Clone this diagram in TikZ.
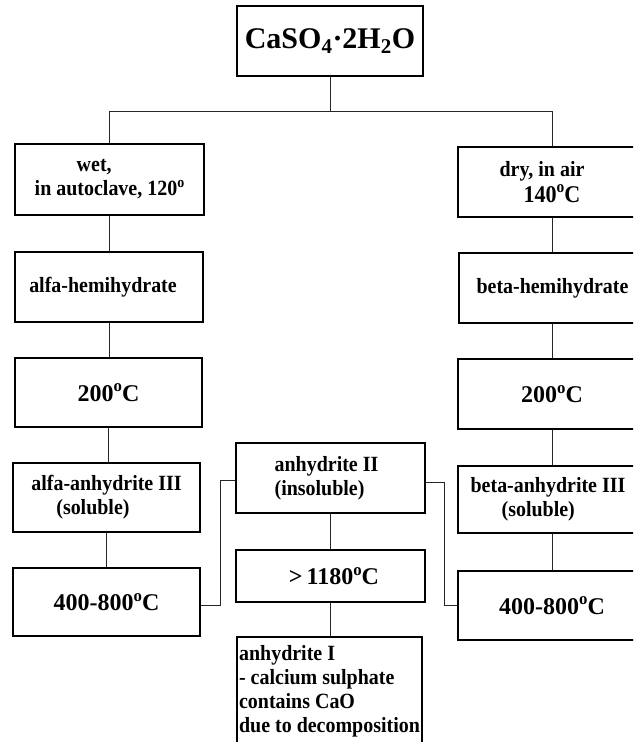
\documentclass[tikz,border=0pt]{standalone}
\usepackage{fontspec}
\setmainfont{Liberation Serif}
\newfontfamily\condfont{Liberation Serif}[FakeStretch=0.92]
\tikzset{
  box/.style={draw, line width=1.6pt, rectangle, inner sep=0pt, align=center,
    font=\condfont\bfseries\fontsize{21.7}{24}\selectfont},
  tempbox/.style={box, font=\bfseries\fontsize{24}{28}\selectfont},
  link/.style={line width=0.9pt, draw=black!85},
}
\newcommand{\degsup}{\raisebox{0.4em}{\scalebox{0.7}{o}}}
\begin{document}
\begin{tikzpicture}[x=1pt, y=-1pt]
\useasboundingbox (0,0) rectangle (633,742);
\clip (0,0) rectangle (633,742);

% boxes
\node[box, minimum width=186pt, minimum height=70pt,
      font=\bfseries\fontsize{30}{36}\selectfont] (top) at (330,41)
      {CaSO\textsubscript{4}·2H\textsubscript{2}O};

\node[box, minimum width=189pt, minimum height=71pt, align=left] (wet) at (109.5,179.5)
      {\hspace*{42pt}wet,\\in autoclave, 120\degsup};
\node[box, minimum width=188pt, minimum height=70pt, align=left] (dry) at (552,182)
      {dry, in air\hspace*{20pt}\\[2pt]\hspace*{24pt}{\fontsize{24}{28}\selectfont 140\degsup C}};

\node[box, minimum width=188pt, minimum height=70pt] (ahemi) at (109,287)
      {alfa-hemihydrate\hspace*{12pt}};
\node[box, minimum width=187pt, minimum height=70pt] (bhemi) at (552.5,288)
      {beta-hemihydrate};

\node[tempbox, minimum width=187pt, minimum height=69pt] (atwo) at (108.5,392.5)
      {200\degsup C};
\node[tempbox, minimum width=188pt, minimum height=70pt] (btwo) at (552,394)
      {200\degsup C};

\node[box, minimum width=187pt, minimum height=69pt, align=left] (aanh) at (106.5,497.5)
      {alfa-anhydrite III\\\hspace*{25pt}(soluble)};
\node[box, minimum width=188pt, minimum height=67pt, align=left] (banh) at (552,499.5)
      {beta-anhydrite III\hspace*{8pt}\\\hspace*{31pt}(soluble)};

\node[tempbox, minimum width=187pt, minimum height=68pt] (afour) at (106.5,602)
      {400-800\degsup C};
\node[tempbox, minimum width=188pt, minimum height=69pt] (bfour) at (552,605.5)
      {400-800\degsup C};

\node[box, minimum width=189pt, minimum height=70pt, align=left] (anhtwo) at (330.5,478)
      {anhydrite II\hspace*{8pt}\\(insoluble)};
\node[tempbox, minimum width=189pt, minimum height=52pt] (hot) at (330.5,576)
      {\hspace*{7pt}>\,1180\degsup C};
\node[box, minimum width=185pt, minimum height=109pt, align=left]
      (anhone) at (329.5,691.5)
      {anhydrite I\\- calcium sulphate\\contains CaO\\due to decomposition};

% connectors
\coordinate (split) at (330,111);
\draw[link] (top.south) -- (split);
\draw[link] (split) -| (wet.north);
\draw[link] (split) -| (dry.north);

\draw[link] (wet.south) -- (wet.south |- ahemi.north);
\draw[link] (ahemi.south) -- (ahemi.south |- atwo.north);
\draw[link] (atwo.south) -- (atwo.south |- aanh.north);
\draw[link] (aanh.south) -- (aanh.south |- afour.north);

\draw[link] (dry.south) -- (dry.south |- bhemi.north);
\draw[link] (bhemi.south) -- (bhemi.south |- btwo.north);
\draw[link] (btwo.south) -- (btwo.south |- banh.north);
\draw[link] (banh.south) -- (banh.south |- bfour.north);

\draw[link] (anhtwo.south) -- (anhtwo.south |- hot.north);
\draw[link] (hot.south) -- (hot.south |- anhone.north);

\coordinate (ljog) at (220,0);
\coordinate (rjog) at (444,0);
\draw[link] ([yshift=-3pt]afour.east) -| ([yshift=-2pt]ljog |- anhtwo.west) -- ([yshift=-2pt]anhtwo.west);
\draw[link] ([yshift=-4pt]anhtwo.east) -| ([yshift=0pt]rjog |- bfour.west) -- (bfour.west);
\end{tikzpicture}
\end{document}
